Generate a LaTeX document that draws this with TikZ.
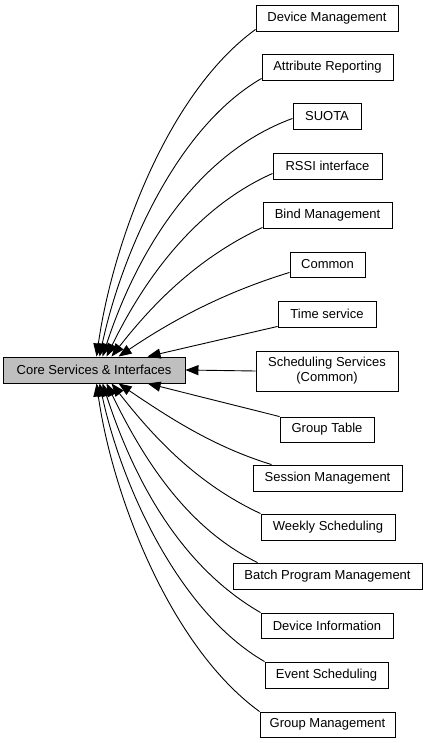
\documentclass[tikz,border=0pt]{standalone}
\usepackage{fontspec}
\setmainfont{Liberation Sans}
\usetikzlibrary{arrows.meta}
\definecolor{coregrey}{RGB}{191,191,191}
\tikzset{
  box/.style={draw=black, line width=0.9pt, inner sep=0pt, minimum height=26pt,
    font=\fontsize{13}{15}\selectfont, align=center, text=black},
  corebox/.style={box, fill=coregrey},
  arr/.style={draw=black, line width=0.9pt, -{Triangle[length=13pt,width=10pt]}},
}
\begin{document}
\begin{tikzpicture}[x=1pt, y=-1pt]
\useasboundingbox (0,0) rectangle (427,743);
\node[corebox, minimum width=182pt] (core) at (94,370) {Core Services \& Interfaces};
\node[box, minimum width=142pt] (dm) at (327,18) {Device Management};
\node[box, minimum width=131pt] (ar) at (327.5,67) {Attribute Reporting};
\node[box, minimum width=68pt] (su) at (327,116) {SUOTA};
\node[box, minimum width=109pt] (rs) at (327.5,166) {RSSI interface};
\node[box, minimum width=129pt] (bi) at (327.5,215) {Bind Management};
\node[box, minimum width=75pt, minimum height=25pt] (co) at (327.5,264.5) {Common};
\node[box, minimum width=98pt] (ti) at (327,314) {Time service};
\node[box, minimum width=142pt, minimum height=40pt] (sc) at (327,371) {Scheduling Services\\(Common)};
\node[box, minimum width=94pt, minimum height=25pt] (gt) at (327,429.5) {Group Table};
\node[box, minimum width=149pt] (se) at (327.5,478) {Session Management};
\node[box, minimum width=134pt] (we) at (328,527) {Weekly Scheduling};
\node[box, minimum width=189pt] (ba) at (327.5,576) {Batch Program Management};
\node[box, minimum width=132pt, minimum height=25pt] (di) at (327,625.5) {Device Information};
\node[box, minimum width=123pt] (ev) at (326.5,675) {Event Scheduling};
\node[box, minimum width=135pt, minimum height=25pt] (gm) at (327.5,724.5) {Group Management};
% start points
\coordinate (sdm) at ([yshift=2pt]dm.south west);
\coordinate (sar) at ([yshift=2pt]ar.south west);
\coordinate (ssu) at ([yshift=11pt]su.south west);
\coordinate (srs) at ([yshift=6pt]rs.south west);
\coordinate (sbi) at ([yshift=1pt]bi.south west);
\coordinate (sco) at ([yshift=5pt]co.south west);
\coordinate (sti) at ([yshift=1pt]ti.south west);
\coordinate (sgt) at (gt.north west);
\coordinate (sse) at ([xshift=19pt]se.north west);
\coordinate (swe) at (we.north west);
\coordinate (sba) at ([xshift=25pt]ba.north west);
\coordinate (sdi) at (di.north west);
\coordinate (sev) at (ev.north west);
\coordinate (sgm) at (gm.north west);
% targets on core
\coordinate (tdm) at ([xshift=94pt]core.north west);
\coordinate (tar) at ([xshift=97pt]core.north west);
\coordinate (tsu) at ([xshift=100pt]core.north west);
\coordinate (trs) at ([xshift=104pt]core.north west);
\coordinate (tbi) at ([xshift=109pt]core.north west);
\coordinate (tco) at ([xshift=116pt]core.north west);
\coordinate (tti) at ([xshift=145pt]core.north west);
\coordinate (tgm) at ([xshift=94pt]core.south west);
\coordinate (tev) at ([xshift=97pt]core.south west);
\coordinate (tdi) at ([xshift=100pt]core.south west);
\coordinate (tba) at ([xshift=104pt]core.south west);
\coordinate (twe) at ([xshift=109pt]core.south west);
\coordinate (tse) at ([xshift=116pt]core.south west);
\coordinate (tgt) at ([xshift=145pt]core.south west);
% upper edges
\draw[arr] (sdm) to[out=216, in=82, looseness=0.78] (tdm);
\draw[arr] (sar) to[out=210, in=78, looseness=0.8] (tar);
\draw[arr] (ssu) to[out=200, in=72, looseness=0.88] (tsu);
\draw[arr] (srs) to[out=204, in=64, looseness=0.88] (trs);
\draw[arr] (sbi) to[out=205, in=52, looseness=0.9] (tbi);
\draw[arr] (sco) to[out=197, in=34, looseness=0.9] (tco);
\draw[arr] (sti) -- (tti);
\draw[arr] (sc.west) -- (core.east);
\draw[arr] (sgt) -- (tgt);
% lower edges
\draw[arr] (sse) to[out=163, in=-34, looseness=0.9] (tse);
\draw[arr] (swe) to[out=155, in=-52, looseness=0.9] (twe);
\draw[arr] (sba) to[out=154, in=-64, looseness=0.88] (tba);
\draw[arr] (sdi) to[out=150, in=-72, looseness=0.88] (tdi);
\draw[arr] (sev) to[out=150, in=-78, looseness=0.8] (tev);
\draw[arr] (sgm) to[out=144, in=-82, looseness=0.78] (tgm);
\end{tikzpicture}
\end{document}
